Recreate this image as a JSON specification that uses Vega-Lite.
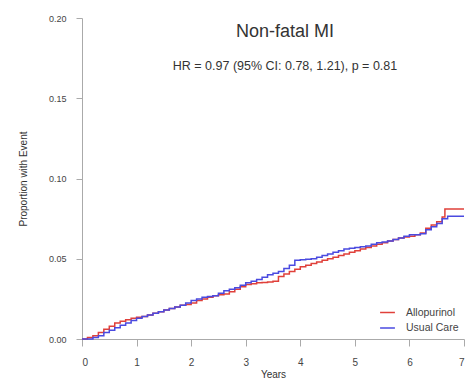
{
  "$schema": "https://vega.github.io/schema/vega-lite/v6.json",
  "width": 382,
  "height": 321,
  "autosize": {"type": "none"},
  "padding": {"left": 82, "top": 18, "right": 5, "bottom": 39},
  "background": "white",
  "config": {"view": {"stroke": null}, "font": "Liberation Sans"},
  "title": {
    "text": "Non-fatal MI",
    "subtitle": "HR = 0.97 (95% CI: 0.78, 1.21), p = 0.81",
    "fontSize": 18,
    "fontWeight": "normal",
    "color": "#333333",
    "subtitleFontSize": 12.5,
    "subtitleColor": "#333333",
    "subtitlePadding": 19,
    "anchor": "middle",
    "dx": 12,
    "offset": -58
  },
  "data": {
    "values": [
      {"t": 0, "p": 0, "g": "Allopurinol"},
      {"t": 0.1, "p": 0.001, "g": "Allopurinol"},
      {"t": 0.2, "p": 0.002, "g": "Allopurinol"},
      {"t": 0.3, "p": 0.004, "g": "Allopurinol"},
      {"t": 0.4, "p": 0.006, "g": "Allopurinol"},
      {"t": 0.5, "p": 0.008, "g": "Allopurinol"},
      {"t": 0.6, "p": 0.01, "g": "Allopurinol"},
      {"t": 0.7, "p": 0.011, "g": "Allopurinol"},
      {"t": 0.8, "p": 0.012, "g": "Allopurinol"},
      {"t": 0.9, "p": 0.013, "g": "Allopurinol"},
      {"t": 1.0, "p": 0.0135, "g": "Allopurinol"},
      {"t": 1.1, "p": 0.014, "g": "Allopurinol"},
      {"t": 1.2, "p": 0.015, "g": "Allopurinol"},
      {"t": 1.3, "p": 0.016, "g": "Allopurinol"},
      {"t": 1.4, "p": 0.017, "g": "Allopurinol"},
      {"t": 1.5, "p": 0.018, "g": "Allopurinol"},
      {"t": 1.6, "p": 0.019, "g": "Allopurinol"},
      {"t": 1.7, "p": 0.02, "g": "Allopurinol"},
      {"t": 1.8, "p": 0.021, "g": "Allopurinol"},
      {"t": 1.9, "p": 0.0215, "g": "Allopurinol"},
      {"t": 2.0, "p": 0.0225, "g": "Allopurinol"},
      {"t": 2.1, "p": 0.024, "g": "Allopurinol"},
      {"t": 2.2, "p": 0.025, "g": "Allopurinol"},
      {"t": 2.3, "p": 0.026, "g": "Allopurinol"},
      {"t": 2.4, "p": 0.027, "g": "Allopurinol"},
      {"t": 2.5, "p": 0.0275, "g": "Allopurinol"},
      {"t": 2.6, "p": 0.028, "g": "Allopurinol"},
      {"t": 2.7, "p": 0.0295, "g": "Allopurinol"},
      {"t": 2.8, "p": 0.031, "g": "Allopurinol"},
      {"t": 2.9, "p": 0.0325, "g": "Allopurinol"},
      {"t": 3.0, "p": 0.034, "g": "Allopurinol"},
      {"t": 3.1, "p": 0.0345, "g": "Allopurinol"},
      {"t": 3.2, "p": 0.035, "g": "Allopurinol"},
      {"t": 3.3, "p": 0.0352, "g": "Allopurinol"},
      {"t": 3.4, "p": 0.0355, "g": "Allopurinol"},
      {"t": 3.5, "p": 0.036, "g": "Allopurinol"},
      {"t": 3.6, "p": 0.039, "g": "Allopurinol"},
      {"t": 3.7, "p": 0.0405, "g": "Allopurinol"},
      {"t": 3.8, "p": 0.042, "g": "Allopurinol"},
      {"t": 3.9, "p": 0.0435, "g": "Allopurinol"},
      {"t": 4.0, "p": 0.045, "g": "Allopurinol"},
      {"t": 4.1, "p": 0.046, "g": "Allopurinol"},
      {"t": 4.2, "p": 0.047, "g": "Allopurinol"},
      {"t": 4.3, "p": 0.048, "g": "Allopurinol"},
      {"t": 4.4, "p": 0.049, "g": "Allopurinol"},
      {"t": 4.5, "p": 0.05, "g": "Allopurinol"},
      {"t": 4.6, "p": 0.051, "g": "Allopurinol"},
      {"t": 4.7, "p": 0.052, "g": "Allopurinol"},
      {"t": 4.8, "p": 0.053, "g": "Allopurinol"},
      {"t": 4.9, "p": 0.054, "g": "Allopurinol"},
      {"t": 5.0, "p": 0.055, "g": "Allopurinol"},
      {"t": 5.1, "p": 0.056, "g": "Allopurinol"},
      {"t": 5.2, "p": 0.057, "g": "Allopurinol"},
      {"t": 5.3, "p": 0.058, "g": "Allopurinol"},
      {"t": 5.4, "p": 0.059, "g": "Allopurinol"},
      {"t": 5.5, "p": 0.06, "g": "Allopurinol"},
      {"t": 5.6, "p": 0.061, "g": "Allopurinol"},
      {"t": 5.7, "p": 0.062, "g": "Allopurinol"},
      {"t": 5.8, "p": 0.063, "g": "Allopurinol"},
      {"t": 5.9, "p": 0.0635, "g": "Allopurinol"},
      {"t": 6.0, "p": 0.064, "g": "Allopurinol"},
      {"t": 6.1, "p": 0.065, "g": "Allopurinol"},
      {"t": 6.2, "p": 0.066, "g": "Allopurinol"},
      {"t": 6.3, "p": 0.069, "g": "Allopurinol"},
      {"t": 6.4, "p": 0.071, "g": "Allopurinol"},
      {"t": 6.5, "p": 0.073, "g": "Allopurinol"},
      {"t": 6.6, "p": 0.076, "g": "Allopurinol"},
      {"t": 6.65, "p": 0.081, "g": "Allopurinol"},
      {"t": 7.0, "p": 0.081, "g": "Allopurinol"},
      {"t": 0, "p": 0, "g": "Usual Care"},
      {"t": 0.2, "p": 0.001, "g": "Usual Care"},
      {"t": 0.3, "p": 0.002, "g": "Usual Care"},
      {"t": 0.4, "p": 0.004, "g": "Usual Care"},
      {"t": 0.5, "p": 0.0055, "g": "Usual Care"},
      {"t": 0.6, "p": 0.007, "g": "Usual Care"},
      {"t": 0.7, "p": 0.0085, "g": "Usual Care"},
      {"t": 0.8, "p": 0.01, "g": "Usual Care"},
      {"t": 0.9, "p": 0.0115, "g": "Usual Care"},
      {"t": 1.0, "p": 0.013, "g": "Usual Care"},
      {"t": 1.1, "p": 0.014, "g": "Usual Care"},
      {"t": 1.2, "p": 0.015, "g": "Usual Care"},
      {"t": 1.3, "p": 0.016, "g": "Usual Care"},
      {"t": 1.4, "p": 0.017, "g": "Usual Care"},
      {"t": 1.5, "p": 0.018, "g": "Usual Care"},
      {"t": 1.6, "p": 0.019, "g": "Usual Care"},
      {"t": 1.7, "p": 0.02, "g": "Usual Care"},
      {"t": 1.8, "p": 0.021, "g": "Usual Care"},
      {"t": 1.9, "p": 0.0225, "g": "Usual Care"},
      {"t": 2.0, "p": 0.024, "g": "Usual Care"},
      {"t": 2.1, "p": 0.025, "g": "Usual Care"},
      {"t": 2.2, "p": 0.026, "g": "Usual Care"},
      {"t": 2.3, "p": 0.0265, "g": "Usual Care"},
      {"t": 2.4, "p": 0.027, "g": "Usual Care"},
      {"t": 2.5, "p": 0.0285, "g": "Usual Care"},
      {"t": 2.6, "p": 0.03, "g": "Usual Care"},
      {"t": 2.7, "p": 0.031, "g": "Usual Care"},
      {"t": 2.8, "p": 0.032, "g": "Usual Care"},
      {"t": 2.9, "p": 0.0335, "g": "Usual Care"},
      {"t": 3.0, "p": 0.035, "g": "Usual Care"},
      {"t": 3.1, "p": 0.036, "g": "Usual Care"},
      {"t": 3.2, "p": 0.037, "g": "Usual Care"},
      {"t": 3.3, "p": 0.0385, "g": "Usual Care"},
      {"t": 3.4, "p": 0.04, "g": "Usual Care"},
      {"t": 3.5, "p": 0.041, "g": "Usual Care"},
      {"t": 3.6, "p": 0.042, "g": "Usual Care"},
      {"t": 3.7, "p": 0.044, "g": "Usual Care"},
      {"t": 3.8, "p": 0.046, "g": "Usual Care"},
      {"t": 3.9, "p": 0.049, "g": "Usual Care"},
      {"t": 4.0, "p": 0.0493, "g": "Usual Care"},
      {"t": 4.1, "p": 0.0497, "g": "Usual Care"},
      {"t": 4.2, "p": 0.05, "g": "Usual Care"},
      {"t": 4.3, "p": 0.051, "g": "Usual Care"},
      {"t": 4.4, "p": 0.052, "g": "Usual Care"},
      {"t": 4.5, "p": 0.053, "g": "Usual Care"},
      {"t": 4.6, "p": 0.054, "g": "Usual Care"},
      {"t": 4.7, "p": 0.055, "g": "Usual Care"},
      {"t": 4.8, "p": 0.056, "g": "Usual Care"},
      {"t": 4.9, "p": 0.0565, "g": "Usual Care"},
      {"t": 5.0, "p": 0.057, "g": "Usual Care"},
      {"t": 5.1, "p": 0.0575, "g": "Usual Care"},
      {"t": 5.2, "p": 0.058, "g": "Usual Care"},
      {"t": 5.3, "p": 0.059, "g": "Usual Care"},
      {"t": 5.4, "p": 0.06, "g": "Usual Care"},
      {"t": 5.5, "p": 0.0605, "g": "Usual Care"},
      {"t": 5.6, "p": 0.061, "g": "Usual Care"},
      {"t": 5.7, "p": 0.062, "g": "Usual Care"},
      {"t": 5.8, "p": 0.063, "g": "Usual Care"},
      {"t": 5.9, "p": 0.064, "g": "Usual Care"},
      {"t": 6.0, "p": 0.065, "g": "Usual Care"},
      {"t": 6.2, "p": 0.0655, "g": "Usual Care"},
      {"t": 6.3, "p": 0.068, "g": "Usual Care"},
      {"t": 6.4, "p": 0.07, "g": "Usual Care"},
      {"t": 6.5, "p": 0.072, "g": "Usual Care"},
      {"t": 6.6, "p": 0.075, "g": "Usual Care"},
      {"t": 6.7, "p": 0.0765, "g": "Usual Care"},
      {"t": 7.0, "p": 0.0765, "g": "Usual Care"}
    ]
  },
  "mark": {"type": "line", "interpolate": "step-after", "strokeWidth": 1.5},
  "encoding": {
    "x": {
      "field": "t", "type": "quantitative",
      "scale": {"domain": [0, 7], "nice": false, "zero": false},
      "axis": {
        "title": "Years", "titleFontSize": 10, "titleFontWeight": "normal", "titleColor": "#333333", "titlePadding": 2,
        "values": [0, 1, 2, 3, 4, 5, 6, 7], "format": "d", "grid": false,
        "domainColor": "#aaaaaa", "tickColor": "#aaaaaa", "tickSize": 7,
        "labelFontSize": 10, "labelColor": "#444444", "labelPadding": 11
      }
    },
    "y": {
      "field": "p", "type": "quantitative",
      "scale": {"domain": [0, 0.2], "nice": false},
      "axis": {
        "title": "Proportion with Event", "titleFontSize": 10, "titleFontWeight": "normal", "titleColor": "#333333", "titlePadding": 20,
        "values": [0, 0.05, 0.1, 0.15, 0.2], "format": ".2f", "grid": false,
        "domainColor": "#aaaaaa", "tickColor": "#aaaaaa", "tickSize": 6,
        "labelFontSize": 9, "labelColor": "#444444", "labelPadding": 10
      }
    },
    "color": {
      "field": "g", "type": "nominal",
      "scale": {"domain": ["Allopurinol", "Usual Care"], "range": ["#e0403a", "#4a4ae0"]},
      "legend": {
        "title": null, "orient": "bottom-right", "offset": 5,
        "symbolType": "stroke", "symbolSize": 220, "symbolStrokeWidth": 1.5,
        "labelFontSize": 10.5, "labelColor": "#444444", "rowPadding": 1.5, "labelOffset": 10
      }
    }
  }
}
